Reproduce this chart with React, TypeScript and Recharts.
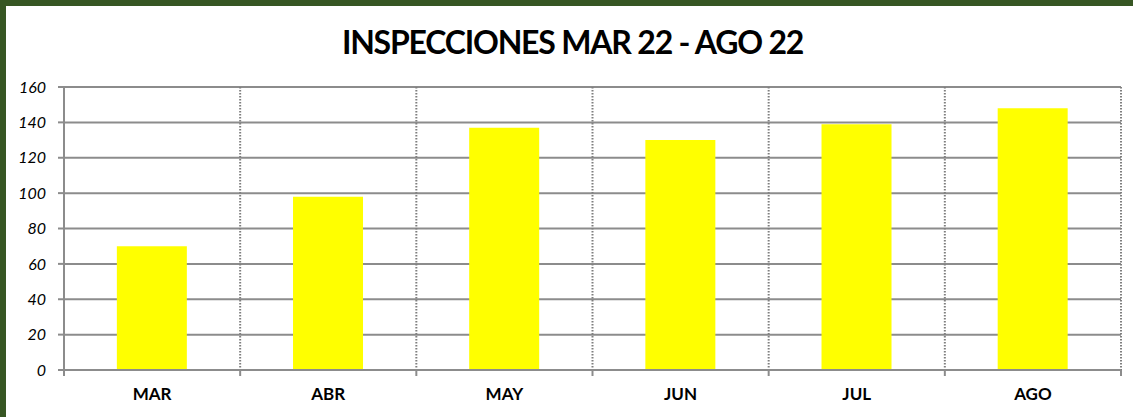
import React from 'react';
import { BarChart, Bar, XAxis, YAxis, CartesianGrid } from 'recharts';

// months and inspections count
const months = ['MAR', 'ABR', 'MAY', 'JUN', 'JUL', 'AGO'];
const inspections = [70, 98, 137, 130, 139, 148];
const yTicks = [0, 20, 40, 60, 80, 100, 120, 140, 160];
// category boundaries, used for the dotted separators and bottom tick marks
const boundaries = [0, 1, 2, 3, 4, 5, 6];

const chartData = months.map((m, i) => ({ month: m, value: inspections[i], pos: i + 0.5 }));

const FONT = 'Lato, "Open Sans", sans-serif';
const GRID = '#8c8c8c';

// empty tick label for the boundary axis (keeps the tick lines)
const NoLabel = () => <g />;

export default function App() {
  return (
    <div
      style={{
        position: 'absolute',
        left: 0,
        top: 0,
        width: 1133,
        height: 417,
        background: '#fff',
        overflow: 'hidden',
        fontFamily: FONT,
      }}
    >
      {/* frame of the excel chart */}
      <div style={{ position: 'absolute', left: 0, top: 0, width: 1133, height: 6, background: '#375623' }} />
      <div style={{ position: 'absolute', left: 0, top: 0, width: 6, height: 417, background: '#375623' }} />
      <div
        style={{
          position: 'absolute',
          left: 6,
          top: 22,
          width: 1133,
          textAlign: 'center',
          fontSize: 32,
          fontWeight: 700,
          letterSpacing: -1.2,
          color: '#000',
          lineHeight: '40px',
        }}
      >
        INSPECCIONES MAR 22 - AGO 22
      </div>
      <div style={{ position: 'absolute', left: 0, top: 0 }}>
        <BarChart
          width={1133}
          height={417}
          data={chartData}
          margin={{ top: 87, right: 12, bottom: 0, left: 0 }}
          barCategoryGap="30%"
        >
          <CartesianGrid vertical={false} stroke={GRID} strokeWidth={2} />
          <CartesianGrid
            horizontal={false}
            stroke="#7f7f7f"
            strokeWidth={2}
            strokeDasharray="1.5 1.5"
            verticalCoordinatesGenerator={({ offset }: any) =>
              boundaries.map((b) => offset.left + (b * offset.width) / boundaries[boundaries.length - 1])
            }
          />
          {/* boundary axis: line + tick marks between months, sits right under the plot */}
          <XAxis
            type="number"
            dataKey="pos"
            domain={[0, 6]}
            ticks={boundaries}
            interval={0}
            height={1}
            tick={<NoLabel />}
            tickSize={6}
            tickLine={{ stroke: GRID, strokeWidth: 2 }}
            axisLine={{ stroke: GRID, strokeWidth: 2 }}
          />
          <XAxis
            xAxisId="m"
            dataKey="month"
            height={46}
            tickLine={false}
            axisLine={false}
            tickSize={0}
            tickMargin={17}
            tick={{ fill: '#000', fontSize: 17, fontWeight: 700, fontFamily: FONT }}
          />
          <YAxis
            width={64}
            domain={[0, 160]}
            ticks={yTicks}
            interval={0}
            tickSize={6}
            tickMargin={12}
            tickLine={{ stroke: GRID, strokeWidth: 2 }}
            axisLine={{ stroke: GRID, strokeWidth: 2 }}
            tick={{ fill: '#000', fontSize: 16, fontStyle: 'italic', fontFamily: FONT }}
          />
          <Bar xAxisId="m" dataKey="value" fill="#ffff00" isAnimationActive={false} />
        </BarChart>
      </div>
    </div>
  );
}
